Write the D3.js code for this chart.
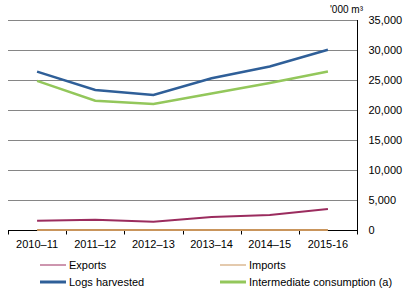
<!DOCTYPE html>
<html>
<head>
<meta charset="utf-8">
<script src="https://cdn.jsdelivr.net/npm/d3@7"></script>
<style>
  body { margin: 0; background: #fff; }
  text { font-family: "Liberation Sans", Arial, sans-serif; }
</style>
</head>
<body>
<svg id="chart" width="409" height="297"></svg>
<script>
// Chart data
const years = ["2010–11", "2011–12", "2012–13", "2013–14", "2014–15", "2015-16"];
const exportsVals = [1550, 1720, 1390, 2170, 2500, 3500];
const importsVals = [10, 10, 10, 10, 10, 10];
const logsVals = [26400, 23350, 22500, 25300, 27250, 30050];
const intermediateVals = [24850, 21550, 21000, 22750, 24500, 26400];
const yTicks = [0, 5000, 10000, 15000, 20000, 25000, 30000, 35000];

const series = [
    { name: "Exports", values: exportsVals, color: "#9b2c5e", width: 2 },
    { name: "Imports", values: importsVals, color: "#c9955c", width: 2 },
    { name: "Logs harvested", values: logsVals, color: "#2f5f98", width: 2.5 },
    { name: "Intermediate consumption (a)", values: intermediateVals, color: "#93c75b", width: 2.5 }
];

const svg = d3.select("#chart");
const margin = { top: 20, right: 52, bottom: 67, left: 8 };
const W = 409, H = 297;

const x = d3.scaleBand()
    .domain(years)
    .range([margin.left, W - margin.right]);

const y = d3.scaleLinear()
    .domain([0, 35000])
    .range([H - margin.bottom, margin.top]);

// Gridlines
svg.append("g")
    .selectAll("line")
    .data(yTicks.filter(d => d > 0))
    .enter().append("line")
    .attr("x1", margin.left)
    .attr("x2", W - margin.right)
    .attr("y1", d => y(d) + 0.5)
    .attr("y2", d => y(d) + 0.5)
    .attr("stroke", "#868686")
    .attr("stroke-width", 1);

// Right y-axis
const yAxis = svg.append("g")
    .attr("transform", `translate(${W - margin.right + 0.5},0)`)
    .call(d3.axisRight(y).tickValues(yTicks).tickSize(0).tickPadding(11)
        .tickFormat(d3.format(",")));
yAxis.select(".domain").attr("stroke", "#000").attr("d", `M0,${y(35000)}V${y(0) + 3}`);
yAxis.selectAll("text").style("font-size", "11px").attr("fill", "#000");

// Bottom x-axis
const xAxis = svg.append("g")
    .attr("transform", `translate(0,${y(0) + 0.5})`);
xAxis.append("line")
    .attr("x1", margin.left).attr("x2", W - margin.right)
    .attr("stroke", "#000");
xAxis.selectAll(".tick")
    .data(years.concat(["end"]))
    .enter().append("line")
    .attr("x1", (d, i) => Math.round(margin.left + i * x.bandwidth()) + 0.5)
    .attr("x2", (d, i) => Math.round(margin.left + i * x.bandwidth()) + 0.5)
    .attr("y1", 0).attr("y2", 4)
    .attr("stroke", "#000");
xAxis.selectAll(".lbl")
    .data(years)
    .enter().append("text")
    .attr("x", d => x(d) + x.bandwidth() / 2)
    .attr("y", 17)
    .attr("text-anchor", "middle")
    .style("font-size", "11px")
    .text(d => d);

// Unit label
svg.append("text")
    .attr("x", 363)
    .attr("y", 13)
    .attr("text-anchor", "end")
    .style("font-size", "10px")
    .text("'000 m³");

// Lines
const line = d3.line()
    .x((d, i) => x(years[i]) + x.bandwidth() / 2)
    .y(d => y(d));

svg.append("g")
    .selectAll("path")
    .data(series)
    .enter().append("path")
    .attr("d", d => line(d.values))
    .attr("fill", "none")
    .attr("stroke", d => d.color)
    .attr("stroke-width", d => d.width);

// Legend
const legend = svg.append("g");
const legPos = [[40, 265], [220, 265], [40, 282], [220, 282]];
series.forEach((s, i) => {
    const [lx, ly] = legPos[i];
    legend.append("line")
        .attr("x1", lx).attr("x2", lx + 26)
        .attr("y1", ly).attr("y2", ly)
        .attr("stroke", s.color)
        .attr("stroke-width", i < 2 ? 1 : 3);
    legend.append("text")
        .attr("x", lx + 29)
        .attr("y", ly + 4)
        .style("font-size", "11px")
        .text(s.name);
});
</script>
</body>
</html>
